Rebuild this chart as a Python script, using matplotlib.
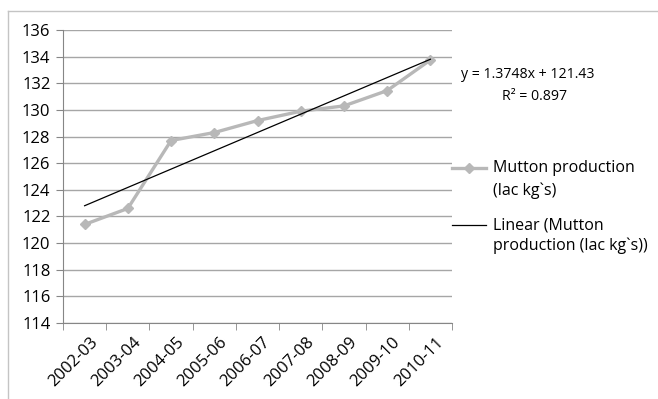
import matplotlib
matplotlib.use("Agg")
import matplotlib.pyplot as plt
import matplotlib.transforms as mtransforms
from matplotlib.lines import Line2D

years = ["2002-03", "2003-04", "2004-05", "2005-06", "2006-07",
         "2007-08", "2008-09", "2009-10", "2010-11"]
mutton = [121.4, 122.6, 127.7, 128.3, 129.2, 129.9, 130.3, 131.45, 133.75]
slope, intercept = 1.3748, 121.43
r2 = 0.897
yticks = list(range(114, 137, 2))

plt.rcParams["font.family"] = ["Open Sans", "DejaVu Sans"]

W, H = 658, 399
fig = plt.figure(figsize=(W / 100, H / 100), dpi=100)
ax = fig.add_axes([63 / W, 1 - 323 / H, (452 - 63) / W, (323 - 30) / H])

# chart border (top and left edges visible)
border = "#c4c4c4"
fig.add_artist(Line2D([7.5 / W, 1.0], [1 - 10.5 / H] * 2, color=border, lw=1))
fig.add_artist(Line2D([7.5 / W] * 2, [0, 1 - 10.5 / H], color=border, lw=1))

xs = list(range(1, len(years) + 1))
line_col = "#b8b8b8"
ax.plot(xs, mutton, color=line_col, lw=2.4, marker="D", ms=5.5, mec=line_col, mfc=line_col, zorder=3)
trend = [slope * x + intercept for x in xs]
ax.plot(xs, trend, color="black", lw=0.9, zorder=4)

ax.set_xlim(0.5, len(years) + 0.5)
ax.set_ylim(114, 136)
ax.set_yticks(yticks)
ax.set_yticklabels([str(t) for t in yticks], fontsize=12)
ax.yaxis.grid(True, color="#a6a6a6", lw=1)
ax.set_axisbelow(True)
ax.set_xticks(xs)
ax.set_xticklabels(years, rotation=45, ha="right", rotation_mode="anchor", fontsize=12)
ax.tick_params(axis="x", length=0, pad=8)
shift = mtransforms.ScaledTranslation(5 / 100, 0, fig.dpi_scale_trans)
for lbl in ax.get_xticklabels():
    lbl.set_transform(lbl.get_transform() + shift)
ax.set_xticks([x + 0.5 for x in [0] + xs], minor=True)
ax.tick_params(axis="x", which="minor", length=5, color="#868686", direction="out")
ax.tick_params(axis="y", length=5, color="#868686", pad=4)
for s in ["top", "right"]:
    ax.spines[s].set_visible(False)
ax.spines["left"].set_color("#868686")
ax.spines["bottom"].set_color("#868686")

fig.text(461 / W, 1 - 74 / H, f"y = {slope}x + {intercept}", fontsize=10.2, va="center", ha="left")
fig.text(502 / W, 1 - 96 / H, f"R² = {r2}", fontsize=10.2, va="center", ha="left")

# legend
fig.add_artist(Line2D([452 / W, 486 / W], [1 - 168 / H] * 2, color=line_col, lw=2.4))
fig.add_artist(Line2D([469 / W], [1 - 168 / H], color=line_col, marker="D", ms=5.5))
fig.text(493 / W, 1 - 168 / H, "Mutton production", fontsize=11.5, va="center")
fig.text(493 / W, 1 - 191 / H, "(lac kg`s)", fontsize=11.5, va="center")
fig.add_artist(Line2D([452 / W, 486 / W], [1 - 225 / H] * 2, color="black", lw=0.9))
fig.text(493 / W, 1 - 225 / H, "Linear (Mutton", fontsize=11.5, va="center")
fig.text(493 / W, 1 - 246 / H, "production (lac kg`s))", fontsize=11.5, va="center")

fig.savefig("out.png", dpi=100)
